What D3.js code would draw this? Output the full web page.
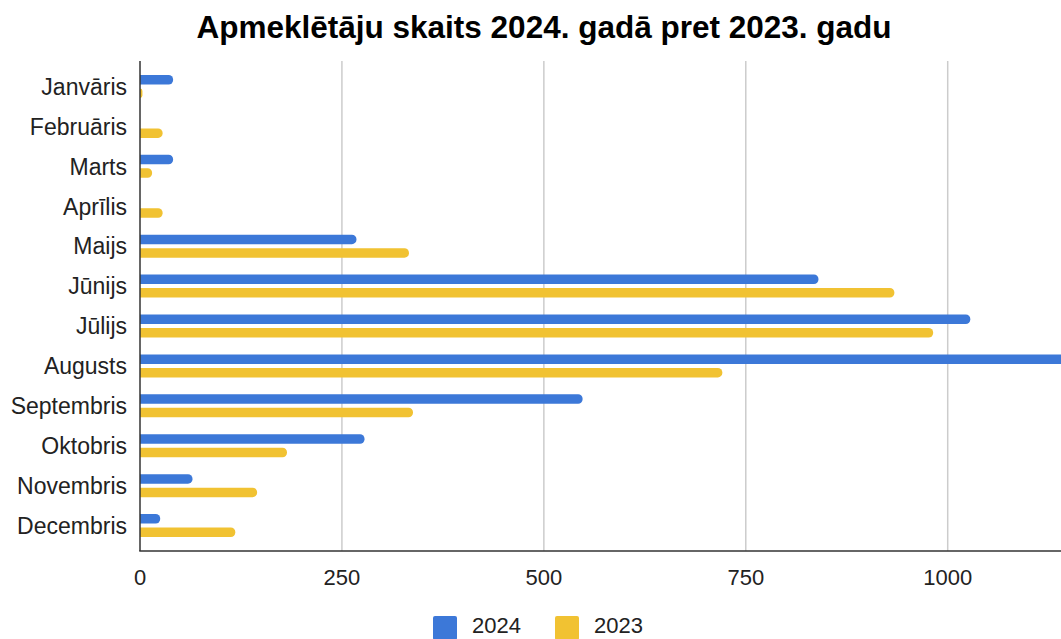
<!DOCTYPE html>
<html>
<head>
<meta charset="utf-8">
<script src="https://cdn.jsdelivr.net/npm/d3@7"></script>
<style>
  html, body { margin: 0; padding: 0; background: #fff; }
  svg { display: block; font-family: "Liberation Sans", Arial, sans-serif; }
</style>
</head>
<body>
<script>
// chart data
var months = ['Janvāris', 'Februāris', 'Marts', 'Aprīlis', 'Maijs', 'Jūnijs',
  'Jūlijs', 'Augusts', 'Septembris', 'Oktobris', 'Novembris', 'Decembris'];
var values2024 = [41, 0, 41, 0, 268, 840, 1028, 1190, 548, 278, 65, 25];
var values2023 = [3, 28, 15, 28, 333, 934, 982, 721, 338, 182, 145, 118];
var xTicks = [0, 250, 500, 750, 1000, 1250];
var seriesNames = ['2024', '2023'];
var seriesColors = ['#3c78d8', '#f1c232'];

var width = 1061, height = 639;
var svg = d3.select('body').append('svg').attr('width', width).attr('height', height);

var plotTop = 61, plotBottom = 551, plotLeft = 140;

var x = d3.scaleLinear().domain([0, 1250]).range([plotLeft, plotLeft + 1250 * 0.8077]);
var y = d3.scaleBand().domain(months).range([66.5, 545.5]).padding(0);

// title
svg.append('text')
  .attr('x', 544).attr('y', 38)
  .attr('text-anchor', 'middle')
  .attr('font-size', 31.5).attr('font-weight', 'bold').attr('fill', '#000')
  .text('Apmeklētāju skaits 2024. gadā pret 2023. gadu');

// vertical gridlines
svg.append('g').selectAll('line')
  .data(xTicks.filter(function (d) { return d > 0; }))
  .enter().append('line')
  .attr('x1', function (d) { return x(d); })
  .attr('x2', function (d) { return x(d); })
  .attr('y1', plotTop).attr('y2', plotBottom)
  .attr('stroke', '#cccccc').attr('stroke-width', 1.5);

// bar with rounded right end
function barPath(x0, y0, w, h, r) {
  r = Math.min(r, w, h / 2);
  return 'M' + x0 + ',' + y0 +
    'H' + (x0 + w - r) +
    'A' + r + ',' + r + ' 0 0 1 ' + (x0 + w) + ',' + (y0 + r) +
    'V' + (y0 + h - r) +
    'A' + r + ',' + r + ' 0 0 1 ' + (x0 + w - r) + ',' + (y0 + h) +
    'H' + x0 + 'Z';
}

var barH = 9.5, gap = 4;
var series = [values2024, values2023];
series.forEach(function (vals, si) {
  svg.append('g').selectAll('path')
    .data(months)
    .enter().filter(function (d, i) { return vals[i] > 0; })
    .append('path')
    .attr('fill', seriesColors[si])
    .attr('d', function (d) {
      var i = months.indexOf(d);
      var c = y(d) + y.bandwidth() / 2;
      var top = si === 0 ? c - gap / 2 - barH : c + gap / 2;
      return barPath(plotLeft, top, x(vals[i]) - plotLeft, barH, 4.5);
    });
});

// axes lines
svg.append('line')
  .attr('x1', plotLeft).attr('x2', plotLeft)
  .attr('y1', plotTop).attr('y2', plotBottom)
  .attr('stroke', '#333').attr('stroke-width', 1.5);
svg.append('line')
  .attr('x1', plotLeft - 0.75).attr('x2', width)
  .attr('y1', plotBottom).attr('y2', plotBottom)
  .attr('stroke', '#333').attr('stroke-width', 1.5);

// x tick labels (the last one falls outside the visible area)
svg.append('g').selectAll('text')
  .data(xTicks.filter(function (d) { return x(d) + 30 < width; }))
  .enter().append('text')
  .attr('x', function (d) { return x(d); })
  .attr('y', 585)
  .attr('text-anchor', 'middle')
  .attr('font-size', 22).attr('fill', '#222')
  .text(function (d) { return d; });

// category labels
svg.append('g').selectAll('text')
  .data(months)
  .enter().append('text')
  .attr('x', 127)
  .attr('y', function (d) { return y(d) + y.bandwidth() / 2 + 8.3; })
  .attr('text-anchor', 'end')
  .attr('font-size', 23).attr('fill', '#222')
  .text(function (d) { return d; });

// legend
var legendX = [433, 555];
seriesNames.forEach(function (name, i) {
  svg.append('rect')
    .attr('x', legendX[i]).attr('y', 616)
    .attr('width', 24).attr('height', 24).attr('rx', 2)
    .attr('fill', seriesColors[i]);
  svg.append('text')
    .attr('x', legendX[i] + 39).attr('y', 633)
    .attr('font-size', 22).attr('fill', '#222')
    .text(name);
});
</script>
</body>
</html>
